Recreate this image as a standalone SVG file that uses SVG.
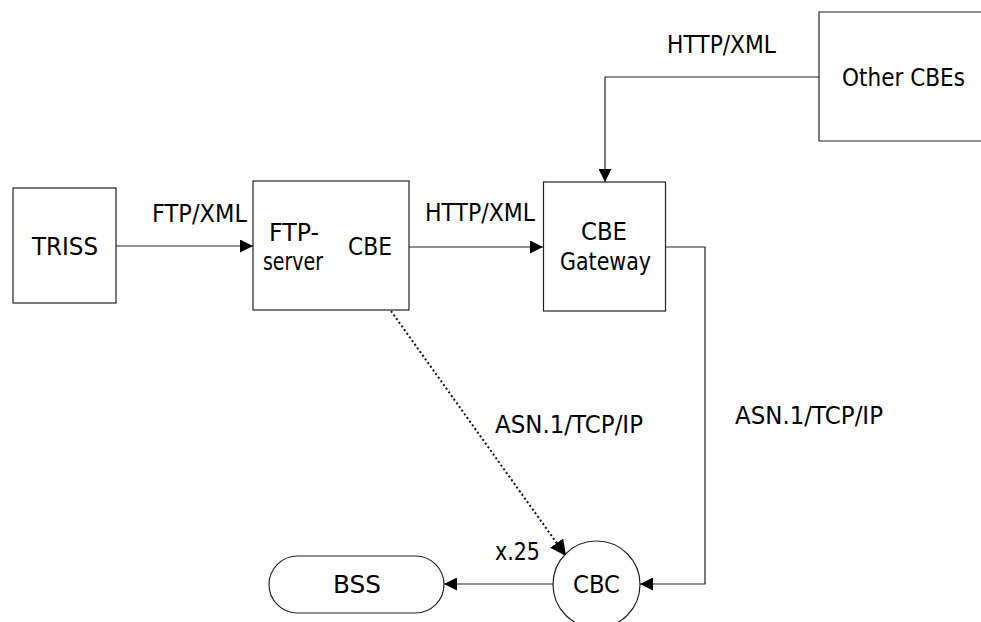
<svg xmlns="http://www.w3.org/2000/svg" width="981" height="622" viewBox="0 0 981 622">
<style>
.box{fill:#fff;stroke:#222;stroke-width:1.2}
.ln{fill:none;stroke:#222;stroke-width:1.2}
.dot{fill:none;stroke:#111;stroke-width:2;stroke-dasharray:2 2.5}
text{font-family:"DejaVu Sans","Verdana",sans-serif;font-size:25px;fill:#000}
</style>
<defs>
<marker id="ah" viewBox="0 0 13 13" refX="13" refY="6.5" markerWidth="13" markerHeight="13" markerUnits="userSpaceOnUse" orient="auto">
<path d="M0,0 L13,6.5 L0,13 z" fill="#000"/>
</marker>
<marker id="ahb" viewBox="0 0 16 16" refX="16" refY="8" markerWidth="16" markerHeight="16" markerUnits="userSpaceOnUse" orient="auto">
<path d="M0,0 L16,8 L0,16 z" fill="#000"/>
</marker>
</defs>
<rect width="981" height="622" fill="#fff"/>
<g id="connectors">
<line class="ln" x1="116" y1="246" x2="253" y2="246" marker-end="url(#ah)"/>
<line class="ln" x1="409" y1="247" x2="543" y2="247" marker-end="url(#ah)"/>
<polyline class="ln" points="819,77 605,77 605,182" marker-end="url(#ah)"/>
<polyline class="ln" points="665,247 705,247 705,584 640,584" marker-end="url(#ah)"/>
<line class="ln" x1="553" y1="584" x2="444" y2="584" marker-end="url(#ah)"/>
<line class="dot" x1="391" y1="311" x2="566" y2="556" marker-end="url(#ahb)"/>
<text x="152" y="222" textLength="95" lengthAdjust="spacingAndGlyphs">FTP/XML</text>
<text x="425" y="221" textLength="110" lengthAdjust="spacingAndGlyphs">HTTP/XML</text>
<text x="667" y="53" textLength="109" lengthAdjust="spacingAndGlyphs">HTTP/XML</text>
<text x="495" y="433" textLength="148" lengthAdjust="spacingAndGlyphs">ASN.1/TCP/IP</text>
<text x="735" y="424" textLength="148" lengthAdjust="spacingAndGlyphs">ASN.1/TCP/IP</text>
<text x="495" y="560" textLength="45" lengthAdjust="spacingAndGlyphs">x.25</text>
</g>
<g id="triss">
<rect class="box" x="13" y="188" width="103" height="115"/>
<text x="32" y="255" textLength="66" lengthAdjust="spacingAndGlyphs">TRISS</text>
</g>
<g id="ftp-cbe">
<rect class="box" x="253" y="181" width="156" height="129"/>
<text x="269" y="241" textLength="50" lengthAdjust="spacingAndGlyphs">FTP-</text>
<text x="263" y="270" textLength="60" lengthAdjust="spacingAndGlyphs">server</text>
<text x="348" y="255" textLength="44" lengthAdjust="spacingAndGlyphs">CBE</text>
</g>
<g id="gateway">
<rect class="box" x="543.5" y="182" width="122" height="129"/>
<text x="581" y="240" textLength="46" lengthAdjust="spacingAndGlyphs">CBE</text>
<text x="560" y="270" textLength="91" lengthAdjust="spacingAndGlyphs">Gateway</text>
</g>
<g id="other-cbes">
<path class="box" d="M981,12 H819 V141 H981"/>
<text x="842" y="86" font-size="22" textLength="123" lengthAdjust="spacingAndGlyphs">Other CBEs</text>
</g>
<g id="bss">
<rect class="box" x="269" y="556" width="175" height="57" rx="28.5" ry="28.5"/>
<text x="333" y="593" textLength="48" lengthAdjust="spacingAndGlyphs">BSS</text>
</g>
<g id="cbc">
<circle class="box" cx="596.5" cy="584.5" r="43.5"/>
<text x="573" y="593" textLength="47" lengthAdjust="spacingAndGlyphs">CBC</text>
</g>
</svg>
